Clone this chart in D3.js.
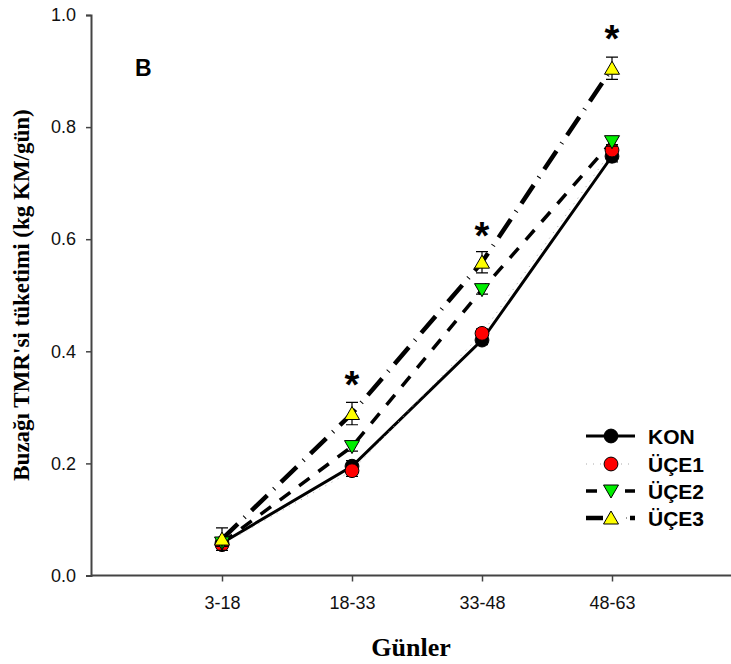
<!DOCTYPE html>
<html><head><meta charset="utf-8">
<script src="https://cdn.jsdelivr.net/npm/d3@7"></script>
<style>body{margin:0;background:#fff}</style>
</head><body><svg id="c" width="731" height="664"></svg>
<script>
const categories = ["3-18","18-33","33-48","48-63"];
const seriesNames = ["KON","ÜÇE1","ÜÇE2","ÜÇE3"];
const KON  = [0.058, 0.195, 0.420, 0.748];
const UCE1 = [0.055, 0.187, 0.432, 0.759];
const UCE2 = [0.058, 0.230, 0.510, 0.774];
const UCE3 = [0.065, 0.289, 0.559, 0.905];
const errKON  = [0.008, 0.010, 0.008, 0.010];
const errUCE1 = [0.006, 0.010, 0.008, 0.010];
const errUCE2 = [0.006, 0.008, 0.008, 0.008];
const errUCE3 = [0.020, 0.020, 0.019, 0.020];
const yTicks = [0.0, 0.2, 0.4, 0.6, 0.8, 1.0];
const starCats = ["18-33","33-48","48-63"];
const starY = [0.355, 0.62, 0.972];

const svg = d3.select("#c");
const x = d3.scaleLinear().domain([0,5]).range([92,742]);
const y = d3.scaleLinear().domain([0,1]).range([575.5,15]);
const xi = c => x(categories.indexOf(c)+1);

// axes
const ya = svg.append("g").attr("transform","translate(91,0)")
  .call(d3.axisLeft(y).tickValues(yTicks).tickFormat(d3.format(".1f")).tickSizeOuter(0).tickSize(5).tickPadding(10));
const xa = svg.append("g").attr("transform","translate(0,575.5)")
  .call(d3.axisBottom(x).tickValues([1,2,3,4]).tickFormat(d=>categories[d-1]).tickSizeOuter(0).tickSize(6).tickPadding(15));
[ya,xa].forEach(g=>{
  g.select(".domain").attr("stroke","#444").attr("stroke-width",2);
  g.selectAll(".tick line").attr("stroke","#444").attr("stroke-width",1.5);
  g.selectAll(".tick text").attr("font-family","Liberation Sans, Arial, sans-serif").attr("font-size",18).attr("fill","#111");
});
xa.select(".domain").attr("d","M91,0H731");

svg.append("text").attr("x",411).attr("y",656).attr("text-anchor","middle")
  .attr("font-family","Liberation Serif, Times New Roman, serif").attr("font-weight","bold").attr("font-size",26).text("Günler");
svg.append("text").attr("transform","translate(29,295) rotate(-90)").attr("text-anchor","middle")
  .attr("font-family","Liberation Serif, Times New Roman, serif").attr("font-weight","bold").attr("font-size",23).text("Buzağı TMR'si tüketimi (kg KM/gün)");
svg.append("text").attr("x",135).attr("y",76)
  .attr("font-family","Liberation Sans, Arial, sans-serif").attr("font-weight","bold").attr("font-size",23).text("B");

const series = [
  {name:seriesNames[0], v:KON,  e:errKON,  fill:"#000",    shape:"circle", stroke:"#000", w:3,   dash:null},
  {name:seriesNames[1], v:UCE1, e:errUCE1, fill:"#ff0000", shape:"circle", stroke:"#aaa", w:1,   dash:"1,6"},
  {name:seriesNames[2], v:UCE2, e:errUCE2, fill:"#00ee00", shape:"down",   stroke:"#000", w:3.5, dash:"13,11"},
  {name:seriesNames[3], v:UCE3, e:errUCE3, fill:"#ffff00", shape:"up",     stroke:"#000", w:4.5, dash:"22,9,1,9"}
];
const line = d3.line().x((d,i)=>x(i+1)).y(d=>y(d));
const sym = s => s==="circle" ? d3.symbol(d3.symbolCircle,150)() :
  s==="up" ? "M0,-7L7.5,6L-7.5,6Z" : "M-7.5,-6L7.5,-6L0,7Z";

series.forEach(s=>{
  const p = svg.append("path").attr("d",line(s.v)).attr("fill","none")
    .attr("stroke",s.stroke).attr("stroke-width",s.w);
  if(s.dash) p.attr("stroke-dasharray",s.dash);
});
series.forEach(s=>{
  const g = svg.append("g");
  s.v.forEach((v,i)=>{
    const cx = x(i+1), e = s.e[i];
    g.append("path").attr("d",`M${cx},${y(v+e)}V${y(v-e)}M${cx-6},${y(v+e)}H${cx+6}M${cx-6},${y(v-e)}H${cx+6}`)
      .attr("stroke","#000").attr("stroke-width",1.2).attr("fill","none");
  });
  s.v.forEach((v,i)=>{
    g.append("path").attr("d",sym(s.shape)).attr("transform",`translate(${x(i+1)},${y(v)})`)
      .attr("fill",s.fill).attr("stroke","#000").attr("stroke-width",1);
  });
});

starCats.forEach((c,i)=>{
  svg.append("text").attr("x",xi(c)).attr("y",y(starY[i])+21).attr("text-anchor","middle")
    .attr("font-family","Liberation Sans, Arial, sans-serif").attr("font-weight","bold").attr("font-size",38).text("*");
});

// legend
const lg = svg.append("g");
const ly = [436, 464, 491, 518];
series.forEach((s,i)=>{
  const yy = ly[i];
  if(i===0) lg.append("path").attr("d",`M586,${yy}H635`).attr("stroke","#000").attr("stroke-width",3);
  if(i===1) lg.append("path").attr("d",`M586,${yy}H635`).attr("stroke","#aaa").attr("stroke-width",1).attr("stroke-dasharray","1,6");
  if(i===2) lg.append("path").attr("d",`M586,${yy}H597M625,${yy}H635`).attr("stroke","#000").attr("stroke-width",3.5);
  if(i===3){ lg.append("path").attr("d",`M586,${yy}H603M630,${yy}H635`).attr("stroke","#000").attr("stroke-width",4.5);
    lg.append("path").attr("d",`M626,${yy}H627`).attr("stroke","#999").attr("stroke-width",2); }
  lg.append("path").attr("d",sym(s.shape)).attr("transform",`translate(611,${yy})`)
    .attr("fill",s.fill).attr("stroke","#000").attr("stroke-width",1);
  lg.append("text").attr("x",648).attr("y",yy+7.5).attr("font-family","Liberation Sans, Arial, sans-serif")
    .attr("font-weight","bold").attr("font-size",21).text(s.name);
});
</script></body></html>
